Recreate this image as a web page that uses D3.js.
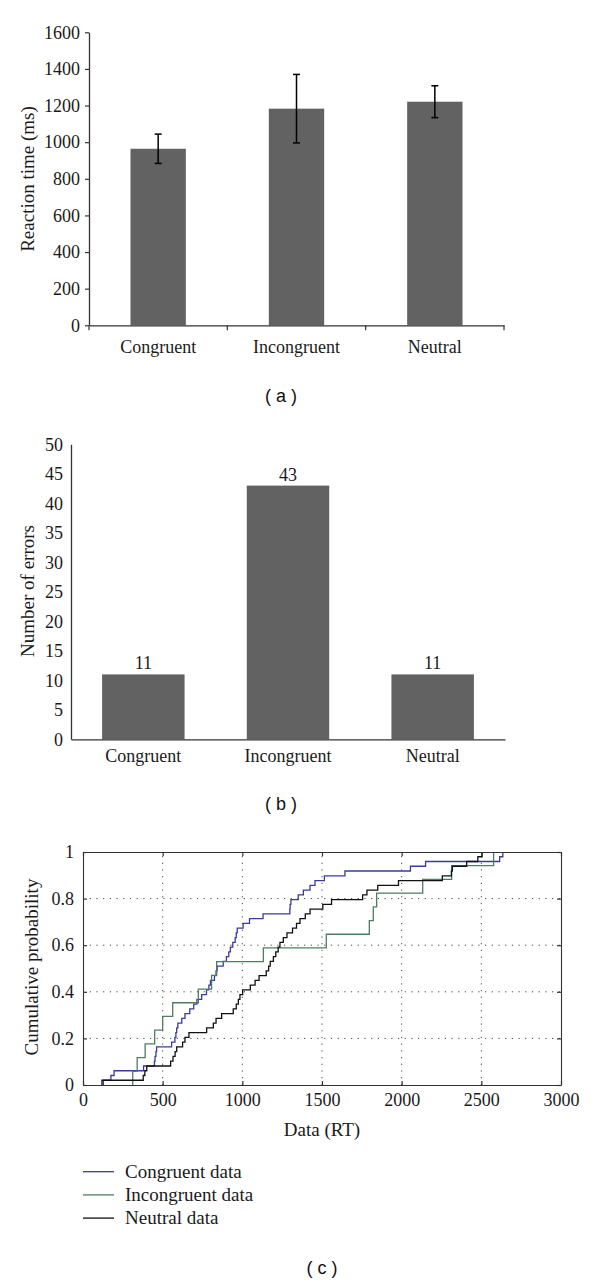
<!DOCTYPE html>
<html>
<head>
<meta charset="utf-8">
<script src="https://cdn.jsdelivr.net/npm/d3@7"></script>
<style>
  html, body { margin: 0; padding: 0; background: #fff; }
  svg { display: block; }
  .serif { font-family: "Liberation Serif", "DejaVu Serif", serif; }
</style>
</head>
<body>
<svg id="chart" width="600" height="1282"></svg>
<script>
// ---------- DATA ----------
const conditions = ["Congruent", "Incongruent", "Neutral"];
const rtMeans = [964, 1183, 1221];
const rtErrors = [80, 187, 87];
const rtTicks = [0, 200, 400, 600, 800, 1000, 1200, 1400, 1600];

const errorCounts = [11, 43, 11];
const errorTicks = [0, 5, 10, 15, 20, 25, 30, 35, 40, 45, 50];

const cdfXTicks = [0, 500, 1000, 1500, 2000, 2500, 3000];
const cdfYTicks = [0, 0.2, 0.4, 0.6, 0.8, 1];
const cdfYTickLabels = ["0", "0.2", "0.4", "0.6", "0.8", "1"];

// Correct-trial reaction times (ms)
const congruentRT = [128, 175, 195, 380, 448, 452, 458, 462, 556, 577, 583, 588, 595, 620, 640, 670,
  695, 715, 745, 775, 790, 800, 825, 835, 842, 880, 900, 915, 925, 940, 955, 962, 968, 1005, 1045,
  1130, 1298, 1300, 1305, 1351, 1383, 1425, 1456, 1515, 1644, 2055, 2150, 2615, 2635];
const incongruentRT = [312, 340, 390, 450, 500, 563, 724, 807, 839, 1132, 1527, 1797, 1822, 1843,
  2132, 2314, 2577];
const neutralRT = [119, 378, 388, 400, 550, 565, 578, 588, 625, 640, 665, 776, 818, 835, 870, 943,
  962, 975, 985, 1002, 1050, 1080, 1105, 1150, 1165, 1175, 1195, 1210, 1225, 1236, 1257, 1280, 1315,
  1340, 1362, 1395, 1425, 1505, 1560, 1755, 1782, 1850, 1980, 2255, 2312, 2318, 2408, 2478, 2505];

const seriesNames = ["Congruent data", "Incongruent data", "Neutral data"];
const seriesColors = ["#3b3b9b", "#4e7d62", "#111111"];

// ---------- SETUP ----------
const svg = d3.select("#chart");
svg.append("rect").attr("width", 600).attr("height", 1282).attr("fill", "#fff");
const serif = '"Liberation Serif", "DejaVu Serif", serif';
const sans = '"Liberation Sans", Arial, sans-serif';
const axisColor = "#333";

function styleAxis(g, fs) {
  g.selectAll("path.domain").attr("stroke", axisColor).attr("stroke-width", 1.3);
  g.selectAll(".tick line").attr("stroke", axisColor).attr("stroke-width", 1.2);
  g.selectAll("text").attr("font-family", serif).attr("font-size", fs).attr("fill", "#1a1a1a");
}

// ---------- PANEL A ----------
(function () {
  const x = d3.scaleBand().domain(conditions).range([89, 504]).padding(0);
  const y = d3.scaleLinear().domain([0, 1600]).range([325.3, 32.3]);
  const g = svg.append("g");
  const bw = x.bandwidth() * 0.4;

  g.selectAll("rect.bar").data(conditions).join("rect")
    .attr("x", d => x(d) + x.bandwidth() / 2 - bw / 2)
    .attr("y", (d, i) => y(rtMeans[i]))
    .attr("width", bw)
    .attr("height", (d, i) => y(0) - y(rtMeans[i]))
    .attr("fill", "#626262");

  const eb = g.selectAll("g.eb").data(conditions).join("g")
    .attr("transform", d => `translate(${x(d) + x.bandwidth() / 2},0)`);
  eb.append("line").attr("y1", (d, i) => y(rtMeans[i] - rtErrors[i])).attr("y2", (d, i) => y(rtMeans[i] + rtErrors[i]))
    .attr("stroke", "#000").attr("stroke-width", 1.5);
  eb.append("line").attr("x1", -3.5).attr("x2", 3.5)
    .attr("y1", (d, i) => y(rtMeans[i] + rtErrors[i])).attr("y2", (d, i) => y(rtMeans[i] + rtErrors[i]))
    .attr("stroke", "#000").attr("stroke-width", 1.5);
  eb.append("line").attr("x1", -3.5).attr("x2", 3.5)
    .attr("y1", (d, i) => y(rtMeans[i] - rtErrors[i])).attr("y2", (d, i) => y(rtMeans[i] - rtErrors[i]))
    .attr("stroke", "#000").attr("stroke-width", 1.5);

  const ya = g.append("g").attr("transform", "translate(89,0)")
    .call(d3.axisLeft(y).tickValues(rtTicks).tickFormat(d3.format("d")).tickSize(4).tickSizeOuter(0).tickPadding(5));
  styleAxis(ya, 18);

  const xa = g.append("g").attr("transform", `translate(0,${y(0)})`)
    .call(d3.axisBottom(x).tickSize(0).tickSizeOuter(0).tickPadding(15));
  styleAxis(xa, 18);
  // category boundary ticks
  const bounds = conditions.map(c => x(c)).concat([x(conditions[2]) + x.bandwidth()]);
  g.selectAll("line.bt").data(bounds).join("line")
    .attr("x1", d => d).attr("x2", d => d).attr("y1", y(0)).attr("y2", y(0) + 5)
    .attr("stroke", axisColor).attr("stroke-width", 1.2);

  g.append("text").attr("transform", "translate(27,179) rotate(-90)")
    .attr("dy", "0.35em").attr("text-anchor", "middle")
    .attr("font-family", serif).attr("font-size", 19).attr("fill", "#1a1a1a")
    .text("Reaction time (ms)");

  g.append("text").attr("x", 281).attr("y", 402).attr("text-anchor", "middle")
    .attr("font-family", sans).attr("font-size", 18).attr("fill", "#111")
    .attr("xml:space", "preserve").text("( a )");
})();

// ---------- PANEL B ----------
(function () {
  const x = d3.scaleBand().domain(conditions).range([71, 505]).padding(0);
  const y = d3.scaleLinear().domain([0, 50]).range([739.3, 444.3]);
  const g = svg.append("g");
  const bw = x.bandwidth() * 0.57;

  g.selectAll("rect.bar").data(conditions).join("rect")
    .attr("x", d => x(d) + x.bandwidth() / 2 - bw / 2)
    .attr("y", (d, i) => y(errorCounts[i]))
    .attr("width", bw)
    .attr("height", (d, i) => y(0) - y(errorCounts[i]))
    .attr("fill", "#626262");

  g.selectAll("text.val").data(conditions).join("text")
    .attr("x", d => x(d) + x.bandwidth() / 2)
    .attr("y", (d, i) => y(errorCounts[i]) - 5)
    .attr("text-anchor", "middle")
    .attr("font-family", serif).attr("font-size", 18).attr("fill", "#1a1a1a")
    .text((d, i) => errorCounts[i]);

  const ya = g.append("g").attr("transform", "translate(71,0)")
    .call(d3.axisLeft(y).tickValues(errorTicks).tickFormat(d3.format("d")).tickSize(0).tickSizeOuter(0).tickPadding(8));
  styleAxis(ya, 18);

  const xa = g.append("g").attr("transform", `translate(0,${y(0)})`)
    .call(d3.axisBottom(x).tickSize(0).tickSizeOuter(0).tickPadding(10));
  styleAxis(xa, 18);

  g.append("text").attr("transform", "translate(27,591) rotate(-90)")
    .attr("dy", "0.35em").attr("text-anchor", "middle")
    .attr("font-family", serif).attr("font-size", 19).attr("fill", "#1a1a1a")
    .text("Number of errors");

  g.append("text").attr("x", 281).attr("y", 810).attr("text-anchor", "middle")
    .attr("font-family", sans).attr("font-size", 18).attr("fill", "#111")
    .attr("xml:space", "preserve").text("( b )");
})();

// ---------- PANEL C ----------
(function () {
  const x = d3.scaleLinear().domain([0, 3000]).range([83, 561]);
  const y = d3.scaleLinear().domain([0, 1]).range([1085, 852]);
  const g = svg.append("g");

  // grid
  const gx = cdfXTicks.filter(t => t > 0 && t < 3000);
  const gy = cdfYTicks.filter(t => t > 0 && t < 1);
  g.selectAll("line.gx").data(gx).join("line")
    .attr("x1", d => x(d)).attr("x2", d => x(d)).attr("y1", y(0)).attr("y2", y(1))
    .attr("stroke", "#444").attr("stroke-width", 1).attr("stroke-dasharray", "1.2,5.5");
  g.selectAll("line.gy").data(gy).join("line")
    .attr("x1", x(0)).attr("x2", x(3000)).attr("y1", d => y(d)).attr("y2", d => y(d))
    .attr("stroke", "#444").attr("stroke-width", 1).attr("stroke-dasharray", "1.2,5.5");

  // curves
  const all = [congruentRT, incongruentRT, neutralRT];
  const line = d3.line().x(d => x(d[0])).y(d => y(d[1])).curve(d3.curveStepAfter);
  all.forEach((arr, k) => {
    const s = arr.slice().sort((a, b) => a - b);
    const n = s.length;
    const pts = [[s[0], 0]].concat(s.map((v, i) => [v, (i + 1) / n]));
    g.append("path").attr("d", line(pts)).attr("fill", "none")
      .attr("stroke", seriesColors[k]).attr("stroke-width", 1.3);
  });

  // axes (ticks inward, all four sides)
  const xb = g.append("g").attr("transform", `translate(0,${y(0)})`)
    .call(d3.axisBottom(x).tickValues(cdfXTicks).tickFormat(d3.format("d")).tickSize(-4).tickSizeOuter(0).tickPadding(8));
  styleAxis(xb, 18);
  const xt = g.append("g").attr("transform", `translate(0,${y(1)})`)
    .call(d3.axisTop(x).tickValues(cdfXTicks).tickFormat("").tickSize(-4).tickSizeOuter(0));
  styleAxis(xt, 18);
  const yl = g.append("g").attr("transform", `translate(${x(0)},0)`)
    .call(d3.axisLeft(y).tickValues(cdfYTicks).tickFormat((d, i) => cdfYTickLabels[i]).tickSize(-4).tickSizeOuter(0).tickPadding(9));
  styleAxis(yl, 18);
  const yr = g.append("g").attr("transform", `translate(${x(3000)},0)`)
    .call(d3.axisRight(y).tickValues(cdfYTicks).tickFormat("").tickSize(-4).tickSizeOuter(0));
  styleAxis(yr, 18);
  [xb, xt, yl, yr].forEach(a => a.select("path.domain").attr("stroke-width", 1.1));

  g.append("text").attr("transform", "translate(31,967) rotate(-90)")
    .attr("dy", "0.35em").attr("text-anchor", "middle")
    .attr("font-family", serif).attr("font-size", 19).attr("fill", "#1a1a1a")
    .text("Cumulative probability");

  g.append("text").attr("x", 322).attr("y", 1136).attr("text-anchor", "middle")
    .attr("font-family", serif).attr("font-size", 19).attr("fill", "#1a1a1a")
    .text("Data (RT)");

  // legend
  const lg = g.selectAll("g.leg").data(seriesNames).join("g")
    .attr("transform", (d, i) => `translate(83,${1171.7 + i * 23.2})`);
  lg.append("line").attr("x1", 0).attr("x2", 31).attr("y1", 0).attr("y2", 0)
    .attr("stroke", (d, i) => seriesColors[i]).attr("stroke-width", 1.3);
  lg.append("text").attr("x", 42).attr("y", 6)
    .attr("font-family", serif).attr("font-size", 19).attr("fill", "#1a1a1a")
    .text(d => d);

  g.append("text").attr("x", 322).attr("y", 1274).attr("text-anchor", "middle")
    .attr("font-family", sans).attr("font-size", 18).attr("fill", "#111")
    .attr("xml:space", "preserve").text("( c )");
})();
</script>
</body>
</html>
